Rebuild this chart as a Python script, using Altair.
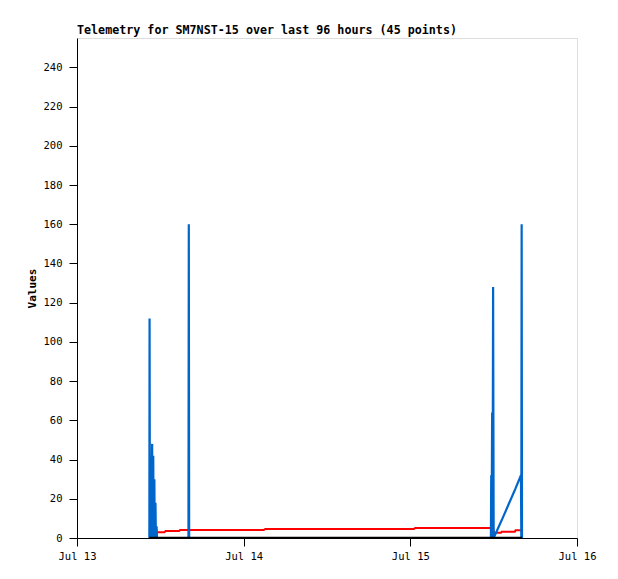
import altair as alt
import pandas as pd
from datetime import datetime, timedelta

# Hours after Jul 13 00:00 for each telemetry point
hours = [10.42, 10.45, 10.50, 10.62, 10.70, 10.82, 10.88, 10.98, 11.04, 11.14,
         11.20, 11.30, 11.36, 11.46, 11.52, 12.60, 12.75, 14.70, 14.85, 16.05,
         16.10, 16.15, 26.90, 27.10, 48.50, 48.70, 59.60, 59.65, 59.70, 59.78,
         59.84, 59.92, 60.00, 61.05, 61.15, 63.05, 63.15, 63.93, 63.98, 64.03,
         64.08]
blue_vals = [0, 112, 0, 24, 0, 48, 0, 42, 0, 30,
             0, 18, 0, 6, 0, 0, 0, 0, 0, 0,
             160, 0, 0, 0, 0, 0, 0, 32, 0, 64,
             0, 128, 0, 8.3, 9.0, 24.5, 25.3, 32, 0, 160,
             0]
red_vals = [3.7, 3.7, 3.7, 3.7, 3.7, 3.7, 3.7, 3.7, 3.7, 3.7,
            3.7, 3.7, 3.7, 3.7, 2.9, 2.9, 3.6, 3.6, 4.1, 4.1,
            4.1, 4.1, 4.1, 4.6, 4.6, 5.1, 5.1, 5.0, 5.0, 5.0,
            5.0, 5.0, 2.7, 2.7, 3.2, 3.2, 3.9, 3.9, 3.9, 3.9,
            3.9]
black_vals = [0] * len(hours)

base = datetime(2024, 7, 13)
times = [(base + timedelta(hours=h)).strftime("%Y-%m-%dT%H:%M:%S") for h in hours]

df_red = pd.DataFrame({"t": times, "v": red_vals})
df_blue = pd.DataFrame({"t": times, "v": blue_vals})
df_black = pd.DataFrame({"t": times, "v": black_vals})

FONT = "DejaVu Sans Mono"

x_enc = alt.X("t:T",
              scale=alt.Scale(domain=[alt.DateTime(year=2024, month=7, date=13),
                                      alt.DateTime(year=2024, month=7, date=16)]),
              axis=alt.Axis(values=[alt.DateTime(year=2024, month=7, date=d) for d in [13, 14, 15, 16]],
                            format="%b %d", title=None, grid=False,
                            tickSize=8, tickColor="#000", domainColor="#000",
                            labelFont=FONT, labelFontSize=10.5, labelColor="#000",
                            labelPadding=5, labelFlush=False))
y_enc = alt.Y("v:Q",
              scale=alt.Scale(domain=[0, 255], nice=False),
              axis=alt.Axis(values=list(range(0, 241, 20)), title="Values", grid=False,
                            tickSize=8, tickColor="#000", domainColor="#000",
                            labelFont=FONT, labelFontSize=10.5, labelColor="#000",
                            labelPadding=7, titleFont=FONT, titleFontSize=11,
                            titleFontWeight="bold", titleColor="#000", titlePadding=6))

red = alt.Chart(df_red).mark_line(color="#ff0000", strokeWidth=2, clip=True).encode(x=x_enc, y=y_enc)
blue = alt.Chart(df_blue).mark_line(color="#0066cc", strokeWidth=2.2, clip=True).encode(x=x_enc, y=y_enc)
black = alt.Chart(df_black).mark_line(color="#000000", strokeWidth=2.5, clip=True).encode(x=x_enc, y=y_enc)

chart = alt.layer(red, blue, black).properties(
    width=500, height=500,
    title=alt.TitleParams("Telemetry for SM7NST-15 over last 96 hours (45 points)",
                          anchor="start", frame="group", font=FONT, fontSize=11.7,
                          fontWeight="bold", color="#000", offset=1),
    autosize=alt.AutoSizeParams(type="none"),
    padding={"left": 69, "top": 30, "right": 33, "bottom": 33},
).configure_view(stroke="#000", strokeWidth=1).configure(background="white")

chart.save("out.html", embed_options={"renderer": "svg", "actions": False})
